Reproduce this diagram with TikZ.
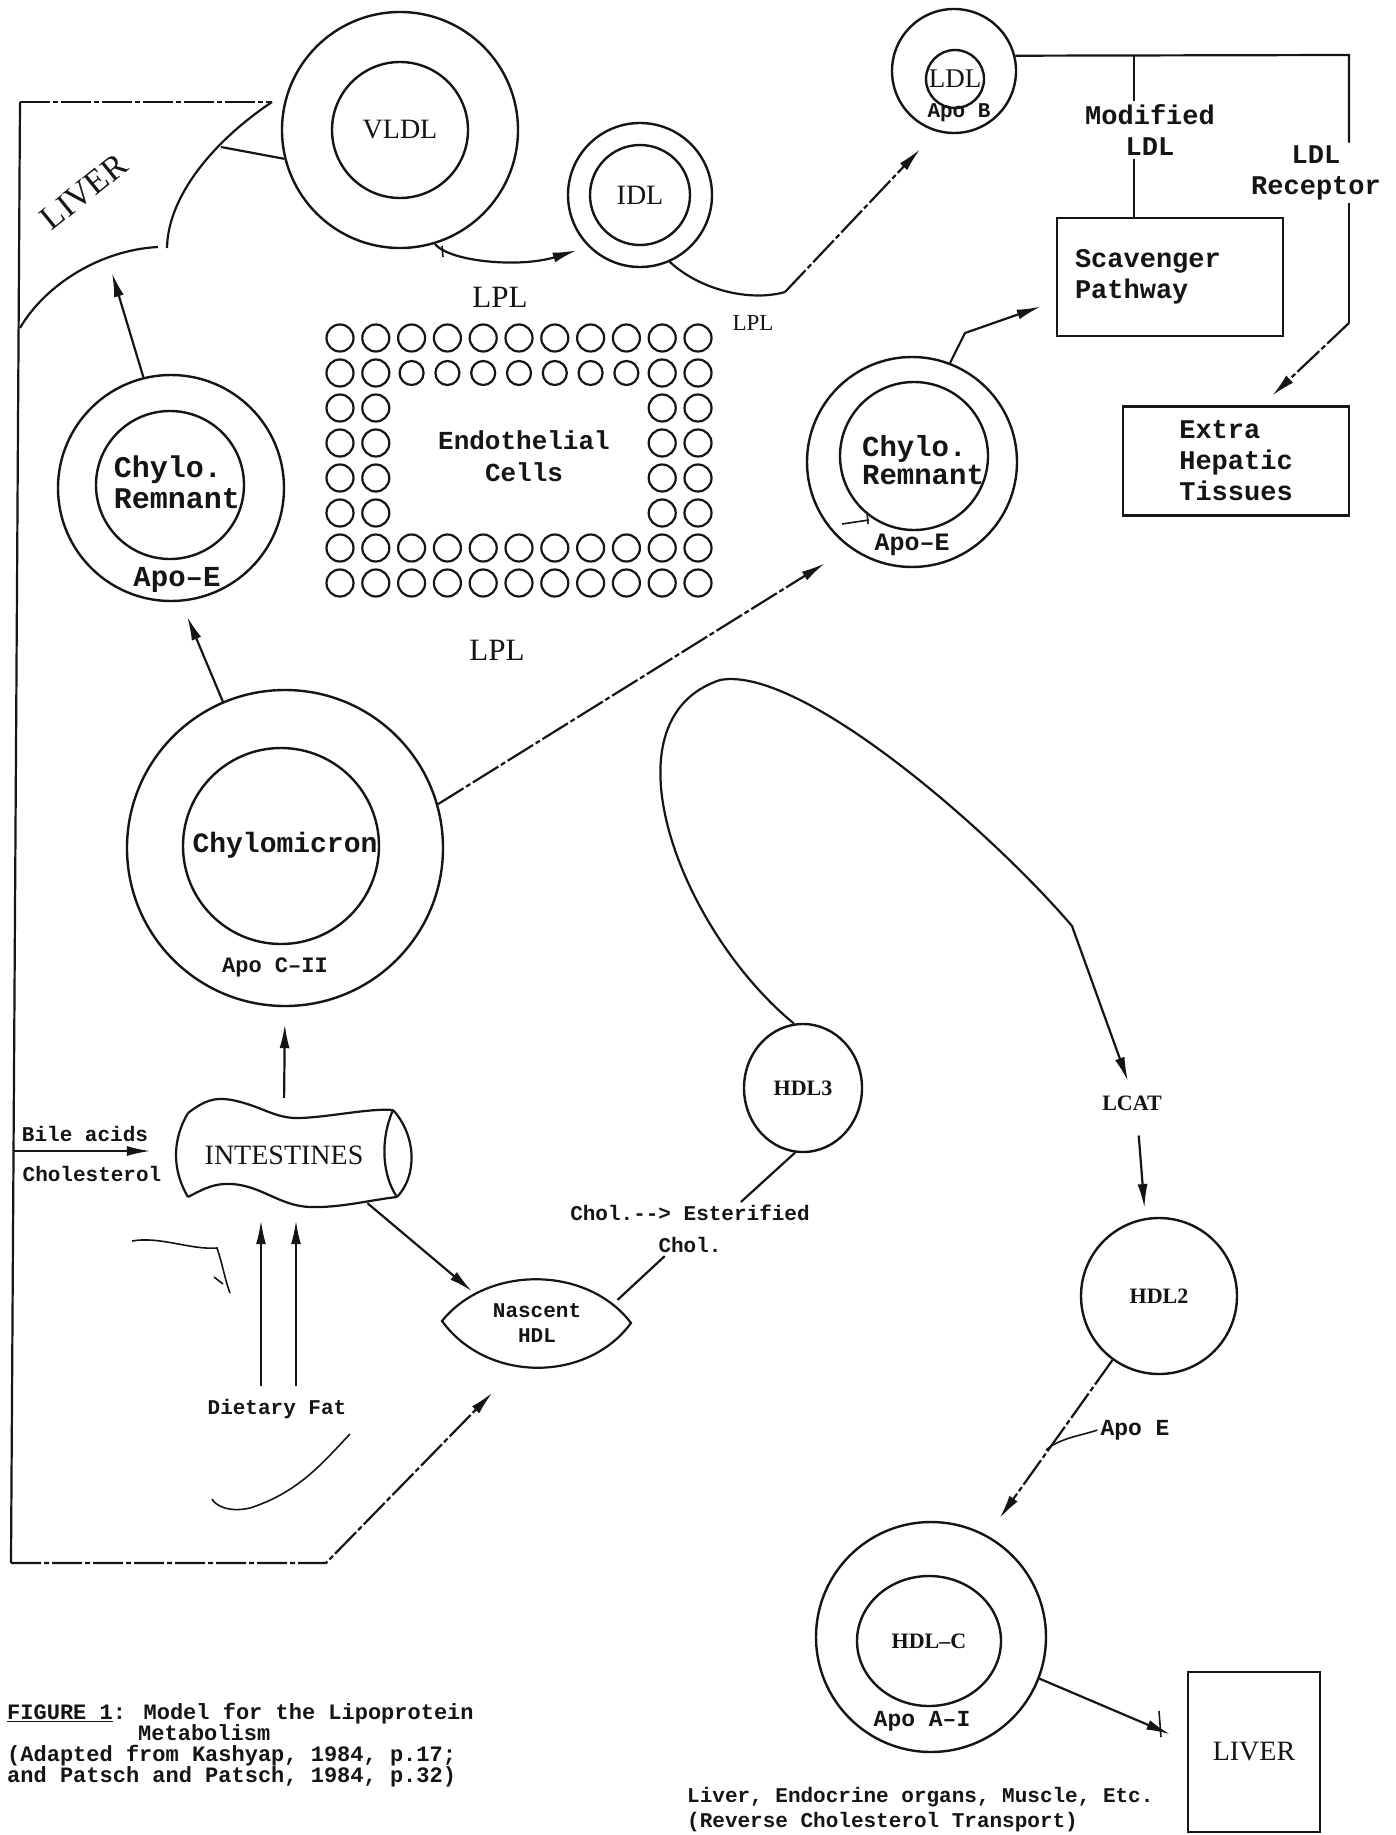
\documentclass[tikz,border=0pt]{standalone}
\usepackage{fontspec}
\setmainfont{Liberation Serif}
\newfontfamily\typefont{Liberation Mono}
\usetikzlibrary{arrows.meta, calc, shapes.geometric}
\definecolor{Ink}{HTML}{151515}
\tikzset{
  particle/.style={draw=Ink, line width=2.4pt, circle, inner sep=0pt, minimum size=#1},
  blob/.style={draw=Ink, line width=2.4pt, ellipse, inner sep=0pt},
  boxnode/.style={draw=Ink, line width=2.4pt, rectangle, inner sep=0pt},
  endocell/.style={draw=Ink, line width=2.2pt},
  romanlbl/.style={font=\fontsize{28}{30}\selectfont, text=Ink, inner sep=3pt},
  lpllbl/.style={font=\fontsize{31}{33}\selectfont, text=Ink, inner sep=3pt},
  hdllbl/.style={font=\bfseries\fontsize{22}{24}\selectfont, text=Ink, inner sep=3pt},
  typed/.style={font=\typefont\bfseries\fontsize{27}{31}\selectfont, text=Ink, align=left, inner sep=3pt},
  typedsmall/.style={font=\typefont\bfseries\fontsize{21}{25}\selectfont, text=Ink, align=center, inner sep=3pt},
  link/.style={draw=Ink, line width=2.2pt},
  thinlink/.style={draw=Ink, line width=1.6pt},
  arrow/.style={link, -{Latex[length=24pt, width=10pt]}},
  brokenline/.style={dash pattern=on 30pt off 3pt on 5pt off 3pt}
}
\begin{document}
\begin{tikzpicture}[x=1pt, y=-1pt]
\fill[white] (0,0) rectangle (1395,1835);
\useasboundingbox (0,0) rectangle (1395,1835);

% particles
\node[particle=236pt] (vldl) at (400,130) {};
\node[particle=136pt, romanlbl] (vldlcore) at (400,130) {VLDL};
\node[particle=144pt] (idl) at (640,195) {};
\node[particle=100pt, romanlbl] (idlcore) at (640,195) {IDL};
\node[particle=124pt] (ldl) at (954,71) {};
\node[particle=58pt, romanlbl, font=\fontsize{27}{29}\selectfont, inner sep=0pt] (ldlcore) at (955,79) {LDL};
\node[typedsmall] (apoB) at (959,113) {Apo B};

\node[particle=226pt] (remL) at (171,488) {};
\node[particle=148pt] (remLcore) at (170,485) {};
\node[typed, font=\typefont\bfseries\fontsize{30}{31}\selectfont] (remLtxt) at (177,482) {Chylo.\\Remnant};
\node[typed, font=\typefont\bfseries\fontsize{29}{31}\selectfont] (apoEL) at (177,580) {Apo–E};

\node[particle=210pt] (remR) at (912,462) {};
\node[particle=148pt] (remRcore) at (914,456) {};
\node[typed, font=\typefont\bfseries\fontsize{29}{28}\selectfont] (remRtxt) at (923,460) {Chylo.\\Remnant};
\node[typedsmall, font=\typefont\bfseries\fontsize{25}{27}\selectfont] (apoER) at (912,545) {Apo–E};

\node[particle=316pt] (chylo) at (285,848) {};
\node[particle=196pt] (chylocore) at (281,846) {};
\node[typed, font=\typefont\bfseries\fontsize{28}{30}\selectfont] (chylotxt) at (285,845) {Chylomicron};
\node[typedsmall, font=\typefont\bfseries\fontsize{22}{24}\selectfont] (apoC) at (275,967) {Apo C–II};

\node[blob, minimum width=118pt, minimum height=128pt, hdllbl] (hdl3) at (803,1088) {HDL3};
\node[particle=156pt, hdllbl] (hdl2) at (1159,1296) {HDL2};
\node[particle=230pt] (hdlc) at (931,1637) {};
\node[blob, minimum width=144pt, minimum height=130pt, hdllbl] (hdlccore) at (929,1641) {HDL–C};
\node[typedsmall, font=\typefont\bfseries\fontsize{23}{25}\selectfont] (apoA) at (922,1721) {Apo A–I};

% boxes
\node[boxnode, typed, minimum width=226pt, minimum height=118pt, text width=190pt] (scav) at (1170,277) {Scavenger\\Pathway};
\node[boxnode, typed, minimum width=226pt, minimum height=109pt] (extra) at (1236,461) {Extra\\Hepatic\\Tissues};
\node[boxnode, romanlbl, minimum width=132pt, minimum height=160pt] (liverR) at (1254,1752) {LIVER};

% endothelial cells
\foreach \col in {0,...,10}
  \foreach \row in {0,1,6,7} {
    \pgfmathsetmacro{\rad}{(\row==1 && \col>1 && \col<9) ? 12 : 13.5}
    \draw[endocell] ({340+35.8*\col},{338+35*\row}) circle[radius=\rad pt];
  }
\foreach \col in {0,1,9,10}
  \foreach \row in {2,...,5}
    \draw[endocell] ({340+35.8*\col},{338+35*\row}) circle[radius=13.5pt];
\node[typed, align=center, font=\typefont\bfseries\fontsize{26}{32}\selectfont] (endo) at (524,456) {Endothelial\\Cells};

% labels
\node[lpllbl] (lplA) at (500,297) {LPL};
\node[romanlbl, font=\fontsize{23}{25}\selectfont] (lplB) at (753,323) {LPL};
\node[lpllbl] (lplC) at (497,650) {LPL};
\node[typed, align=center] (modLbl) at (1150,130) {Modified\\LDL};
\node[typed, align=center] (recLbl) at (1316,173) {LDL\\Receptor};
\node[romanlbl, font=\fontsize{34}{36}\selectfont, rotate=39] (liverL) at (84,192) {LIVER};
\node[romanlbl, minimum width=224pt, minimum height=96pt] (gut) at (284,1155) {INTESTINES};
\node[typedsmall] (bileLbl) at (85,1134) {Bile acids};
\node[typedsmall] (cholLbl) at (92,1174) {Cholesterol};
\node[typedsmall] (fat) at (277,1409) {Dietary Fat};
\node[typedsmall, ellipse, minimum width=190pt, minimum height=86pt, inner sep=0pt] (nascent) at (537,1323) {Nascent\\HDL};
\node[typedsmall, font=\typefont\bfseries\fontsize{21}{32}\selectfont] (ester) at (690,1229) {Chol.-{}-> Esterified\\Chol.};
\node[hdllbl] (lcat) at (1132,1103) {LCAT};
\node[typedsmall, font=\typefont\bfseries\fontsize{23}{25}\selectfont] (apoE) at (1135,1430) {Apo E};
\node[typedsmall, align=left, anchor=west] (footer) at (684,1810)
  {Liver, Endocrine organs, Muscle, Etc.\\(Reverse Cholesterol Transport)};
\node[typedsmall, align=left, anchor=north west, font=\typefont\bfseries\fontsize{22}{21}\selectfont] (caption) at (4,1700)
  {\underline{FIGURE 1}: Model for the Lipoprotein\\\hspace*{131pt}Metabolism\\(Adapted from Kashyap, 1984, p.17;\\and Patsch and Patsch, 1984, p.32)};

% shapes drawn directly
\coordinate (frameTL) at (20,102);
\coordinate (frameBL) at (11,1563);
\coordinate (frameBR) at (326,1563);
\coordinate (frameBile) at (13,1151);
\coordinate (liverNeck) at (221,147);
\coordinate (liverIn) at (112,273);
\draw[link, brokenline] (frameTL) -- (272,102);
\draw[link] (272,102) .. controls (215,140) and (168,195) .. (167,248);
\draw[link] (158,247) .. controls (100,250) and (45,285) .. (20,328);
\draw[link] (frameTL) -- (frameBL);
\draw[link] (188,1113) .. controls (205,1100) and (215,1097) .. (232,1100)
  .. controls (262,1106) and (275,1119) .. (300,1118)
  .. controls (330,1117) and (370,1108) .. (393,1110);
\draw[link] (188,1197) .. controls (205,1188) and (215,1183) .. (232,1184)
  .. controls (262,1186) and (280,1206) .. (310,1207)
  .. controls (340,1208) and (370,1200) .. (397,1197);
\draw[link] (188,1113) .. controls (172,1140) and (172,1170) .. (188,1197);
\draw[link] (393,1110) .. controls (380,1140) and (382,1175) .. (397,1197);
\draw[link] (393,1110) .. controls (416,1135) and (418,1175) .. (397,1197);
\draw[link] (442,1321) .. controls (487,1265) and (587,1265) .. (631,1323)
  .. controls (587,1383) and (487,1383) .. (442,1321) -- cycle;
\draw[thinlink] (132,1241) .. controls (160,1236) and (190,1250) .. (217,1248)
  .. controls (222,1262) and (225,1280) .. (230,1293);
\draw[thinlink] (214,1277) -- (223,1284);
\draw[thinlink] (350,1434) .. controls (325,1460) and (300,1492) .. (250,1508)
  .. controls (228,1513) and (215,1505) .. (212,1499);
\draw[thinlink] (842,524) -- (869,520);
\draw[thinlink] (867,512) -- (868,524);
\draw[thinlink] (442,246) -- (443,257);
\draw[thinlink] (1159,1711) -- (1161,1737);

% connectors
\coordinate (ldlBend) at (785,292);
\coordinate (splitTop) at (1134,55);
\coordinate (recTop) at (1349,55);
\coordinate (recKnee) at (1349,323);
\coordinate (remBend) at (965,333);
\coordinate (loopTop) at (720,680);
\coordinate (loopBend) at (1072,926);
\coordinate (apoEJoin) at (1046,1450);
\draw[link] (liverNeck) -- (vldl.194);
\draw[arrow] (remL.104) -- (liverIn);
\draw[arrow, shorten >=16pt] (chylo.113) -- (remL.-85);
\draw[arrow, shorten <=9pt, shorten >=17pt] (gut.north) -- (chylo.south);
\draw[arrow, shorten >=21pt] (frameBile) -- (gut.west |- frameBile);
\draw[arrow, shorten <=10pt, shorten >=17pt] ([xshift=-16pt]fat.north) -- ([xshift=-23pt]gut.south);
\draw[arrow, shorten <=10pt, shorten >=17pt] ([xshift=19pt]fat.north) -- ([xshift=12pt]gut.south);
\draw[arrow] (gut.-30) -- (nascent.154);
\draw[arrow, brokenline, shorten >=38pt] (frameBL) -- (frameBR) -- (nascent.-113);
\draw[arrow, shorten >=12pt] (vldl.-73) .. controls (450,262) and (520,268) .. (idl.-135);
\draw[link] (idl.-66) .. controls (700,290) and (750,302) .. (ldlBend);
\draw[arrow, brokenline, shorten >=24pt] (ldlBend) -- (ldl.-106);
\draw[link] (ldl.14) -- (recTop) -- (recTop |- recLbl.north);
\draw[link] (recTop |- recLbl.south) -- (recKnee);
\draw[arrow, brokenline, shorten >=14pt] (recKnee) -- (extra.65);
\draw[link] (splitTop) -- (splitTop |- modLbl.north);
\draw[link] (splitTop |- modLbl.south) -- (splitTop |- scav.north);
\draw[arrow, shorten >=16pt] (remR.69) -- (remBend) -- (scav.192);
\draw[arrow, brokenline, shorten >=29pt] (chylo.16) -- (remR.-126);
\draw[arrow, shorten >=12pt] (hdl3.98) .. controls (680,930) and (600,720) .. (loopTop)
  .. controls (800,665) and (990,830) .. (loopBend) -- (lcat.north);
\draw[arrow, shorten <=22pt, shorten >=10pt] ([xshift=5pt]lcat.south) -- (hdl2.100);
\draw[arrow, brokenline, shorten >=21pt] (hdl2.-126) -- (hdlc.61);
\draw[thinlink] (apoE.west) .. controls (1080,1436) and (1060,1438) .. (apoEJoin);
\draw[link] (hdl3.-97) -- (ester.28);
\draw[link] (ester.-133) -- (nascent.16);
\draw[arrow, shorten >=18pt] (hdlc.-21) -- (liverR.171);
\end{tikzpicture}
\end{document}
